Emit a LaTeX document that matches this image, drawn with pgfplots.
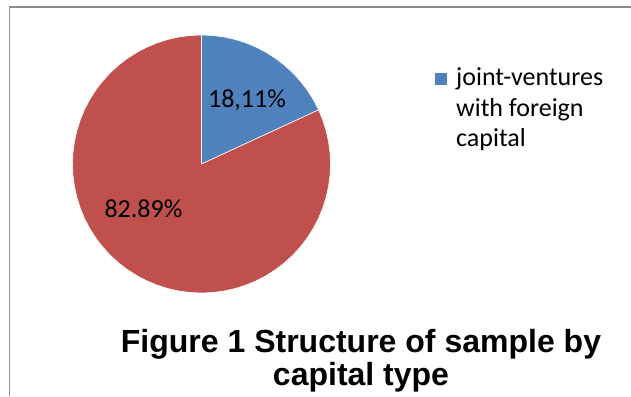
\documentclass[border=0pt]{standalone}
\usepackage{fontspec}
\usepackage{pgfplots}
\pgfplotsset{compat=1.18}
\usepgfplotslibrary{polar}
\newfontfamily\carlito{Carlito}
\newfontfamily\arial{Liberation Sans}
\definecolor{pieblue}{HTML}{4F81BD}
\definecolor{piered}{HTML}{C0504D}
\definecolor{framegray}{HTML}{8C8C8C}
\begin{document}
\begin{tikzpicture}[x=1pt,y=1pt]
\path[use as bounding box] (0,0) rectangle (631,396);
\draw[framegray, line width=1.5pt] (9.5,0) -- (9.5,389) -- (631,389);
\begin{polaraxis}[
  hide axis, scale only axis, width=258pt, height=258pt,
  ymin=0, ymax=1, clip=false,
  at={(201.5pt,232pt)}, anchor=origin,
]
% joint-ventures with foreign capital: 18.11% -> 65.196 deg, from 90 clockwise to 24.804
\addplot[fill=pieblue, draw=white, line width=0.6pt, mark=none] coordinates {
 (0,0) (90,1) (85,1) (80,1) (75,1) (70,1) (65,1) (60,1) (55,1) (50,1) (45,1)
 (40,1) (35,1) (30,1) (24.804,1) (0,0)};
% other: 82.89%
\addplot[fill=piered, draw=white, line width=0.6pt, mark=none] coordinates {
 (0,0) (24.804,1) (20,1) (15,1) (10,1) (5,1) (360,1) (355,1) (350,1) (345,1)
 (340,1) (335,1) (330,1) (325,1) (320,1) (315,1) (310,1) (305,1) (300,1)
 (295,1) (290,1) (285,1) (280,1) (275,1) (270,1) (265,1) (260,1) (255,1)
 (250,1) (245,1) (240,1) (235,1) (230,1) (225,1) (220,1) (215,1) (210,1)
 (205,1) (200,1) (195,1) (190,1) (185,1) (180,1) (175,1) (170,1) (165,1)
 (160,1) (155,1) (150,1) (145,1) (140,1) (135,1) (130,1) (125,1) (120,1)
 (115,1) (110,1) (105,1) (100,1) (95,1) (90,1) (0,0)};
\node[font=\carlito\fontsize{26}{30}\selectfont] at (axis cs:54.6,0.609) {18,11\%};
\node[font=\carlito\fontsize{26}{30}\selectfont] at (axis cs:217.5,0.567) {82.89\%};
\end{polaraxis}
\fill[pieblue] (435,311) rectangle (447,323);
\node[anchor=base west, align=left, inner sep=0pt,
      font=\carlito\fontsize{26}{30.5}\selectfont] at (456,249.3)
  {joint-ventures\\with foreign\\capital};
\node[anchor=base, align=center, inner sep=0pt,
      font=\arial\bfseries\fontsize{32}{33}\selectfont] at (361,11)
  {Figure 1 Structure of sample by\\capital type};
\end{tikzpicture}
\end{document}
